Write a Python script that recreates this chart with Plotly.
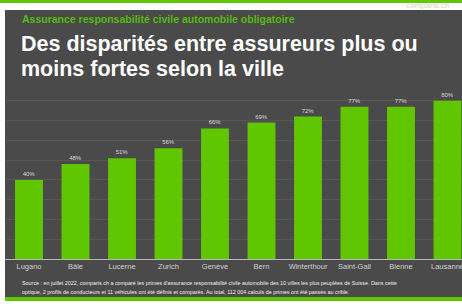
import plotly.graph_objects as go

cities = ["Lugano", "Bâle", "Lucerne", "Zurich", "Genève", "Bern",
          "Winterthour", "Saint-Gall", "Bienne", "Lausanne"]
values = [40, 48, 51, 56, 66, 69, 72, 77, 77, 80]
value_labels = [f"{v}%" for v in values]

subtitle = "Assurance responsabilité civile automobile obligatoire"
title_lines = ["Des disparités entre assureurs plus ou", "moins fortes selon la ville"]
source_lines = [
    "Source : en juillet 2022, comparis.ch a comparé les primes d'assurance responsabilité civile automobile des 10 villes les plus peuplées de Suisse. Dans cette",
    "optique, 2 profils de conducteurs et 11 véhicules ont été définis et comparés. Au total, 112 004 calculs de primes ont été passés au crible.",
]

W, H = 470, 304
L, R, T, B = 5, 470, 81, 259  # plot area in pixels (page is cropped at 462)
C0, STEP = 29.0, 46.5         # first category centre and spacing in pixels

def px(x):
    return (x - L) / (R - L)

def py(y):
    return (B - y) / (B - T)

GREEN = "#5fc600"
DARK = "#4a4a4a"
FONT = "Liberation Sans, Arial, sans-serif"

fig = go.Figure(go.Bar(
    x=list(range(len(cities))),
    y=values,
    text=value_labels,
    textposition="outside",
    textfont=dict(size=6, color="#d8d8d8", family=FONT),
    marker=dict(color=GREEN, line=dict(width=0)),
    width=0.6,
    cliponaxis=False,
))

def rect(x0, x1, y0, y1, color):
    return dict(type="rect", xref="paper", yref="paper", x0=px(x0), x1=px(x1), y0=py(y1), y1=py(y0),
                fillcolor=color, line=dict(width=0), layer="below")

shapes = [
    rect(0, 5, 0, 304, "#ffffff"),        # left white border
    rect(0, 470, 3, 10, "#ffffff"),       # top white strip
    rect(0, 470, 301, 304, "#ffffff"),    # bottom white strip
    rect(0, 470, 0, 3, GREEN),            # top green stripe
    rect(5, 470, 297, 301, GREEN),        # bottom green stripe
]

annotations = [
    dict(text=subtitle, x=px(20), y=py(19), xref="paper", yref="paper", xanchor="left", yanchor="middle",
         showarrow=False, font=dict(size=10.5, color="#55bb10", family=FONT, weight="bold")),
    dict(text="comparis.ch", x=px(404), y=py(5), xref="paper", yref="paper", xanchor="left", yanchor="middle",
         showarrow=False, font=dict(size=8, color="#c6dcb4", family=FONT)),
]
for i, line in enumerate(title_lines):
    annotations.append(dict(text=line, x=px(19), y=py(44 + 25 * i), xref="paper", yref="paper",
                            xanchor="left", yanchor="middle", showarrow=False,
                            font=dict(size=21.5, color="#ffffff", family=FONT, weight="bold")))
for i, line in enumerate(source_lines):
    annotations.append(dict(text=line, x=px(20), y=py(283 + 8.5 * i), xref="paper", yref="paper",
                            xanchor="left", yanchor="middle", showarrow=False,
                            font=dict(size=5.4, color="#f0f0f0", family=FONT)))

fig.update_layout(
    width=W, height=H,
    margin=dict(l=L, r=W - R, t=T, b=H - B, pad=0, autoexpand=False),
    paper_bgcolor=DARK,
    plot_bgcolor="rgba(0,0,0,0)",
    showlegend=False,
    shapes=shapes,
    annotations=annotations,
    xaxis=dict(
        range=[(L - C0) / STEP, (R - C0) / STEP], tickmode="array",
        tickvals=list(range(len(cities))), ticktext=cities,
        showgrid=False, zeroline=False, showline=True, linecolor="#b8b8b8", linewidth=1,
        ticks="", tickfont=dict(size=7.5, color="#d0d0d0", family=FONT), fixedrange=True,
        automargin=False, ticklabeloverflow="allow",
    ),
    yaxis=dict(
        range=[0, 90], dtick=10, showticklabels=False, showgrid=True, gridcolor="#565656",
        gridwidth=1, zeroline=False, showline=False, ticks="", fixedrange=True, automargin=False,
    ),
    bargap=0.4,
)

fig.write_html(
    "out.html",
    config={"displayModeBar": False},
    post_script=(
        "document.body.style.margin='0';document.body.style.overflow='hidden';"
        "document.documentElement.style.overflow='hidden';"
    ),
)
